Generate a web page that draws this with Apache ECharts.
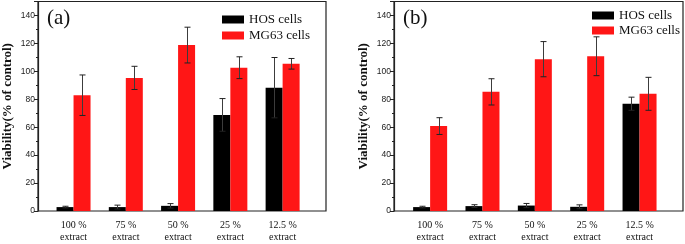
<!DOCTYPE html>
<html>
<head>
<meta charset="utf-8">
<script src="https://cdn.jsdelivr.net/npm/echarts@6/dist/echarts.min.js"></script>
<style>
html,body{margin:0;padding:0;background:#fff;}
#c{width:685px;height:244px;}
</style>
</head>
<body>
<div id="c"></div>
<script>
// ---- data ----
var categories = ['100 %\nextract', '75 %\nextract', '50 %\nextract', '25 %\nextract', '12.5 %\nextract'];
var positions = [1, 2, 3, 4, 5];

var aHOS = [2.8, 2.8, 3.7, 68.8, 88.3];
var aHOSErr = [0.6, 1.4, 1.6, 11.7, 21.6];
var aMG63 = [82.9, 95.3, 118.8, 102.6, 105.4];
var aMG63Err = [14.5, 8.3, 12.8, 7.8, 3.8];

var bHOS = [2.8, 3.5, 3.9, 3.0, 76.8];
var bHOSErr = [0.6, 1.0, 1.5, 1.4, 4.7];
var bMG63 = [60.8, 85.3, 108.7, 110.8, 83.9];
var bMG63Err = [6.0, 9.4, 12.6, 13.9, 11.8];

var SERIF = 'Liberation Serif, Times New Roman, serif';
var SANS = 'Liberation Sans, Arial, sans-serif';
var BAR_W = 17;

function pairs(vals) { return positions.map(function (p, i) { return [p, vals[i]]; }); }
function triples(vals, errs) { return positions.map(function (p, i) { return [p, vals[i], errs[i]]; }); }

function errSeries(idx, vals, errs, shift) {
  return {
    type: 'custom', name: 'err' + idx + shift, xAxisIndex: idx, yAxisIndex: idx, z: 5,
    data: triples(vals, errs),
    renderItem: function (params, api) {
      var x = api.value(0), y = api.value(1), e = api.value(2);
      var top = api.coord([x, y + e]);
      var bot = api.coord([x, y - e]);
      var cx = Math.round(top[0] + shift * BAR_W / 2) + 0.5;
      var cap = 3;
      return {
        type: 'group',
        children: [
          { type: 'line', shape: { x1: cx, y1: top[1], x2: cx, y2: bot[1] }, style: { stroke: '#3c3c3c', lineWidth: 1 } },
          { type: 'line', shape: { x1: cx - cap, y1: top[1], x2: cx + cap, y2: top[1] }, style: { stroke: '#222', lineWidth: 1 } },
          { type: 'line', shape: { x1: cx - cap, y1: bot[1], x2: cx + cap, y2: bot[1] }, style: { stroke: '#222', lineWidth: 1 } }
        ]
      };
    }
  };
}

function xAxisDef(idx, min, max) {
  return {
    type: 'value', gridIndex: idx, min: min, max: max,
    splitLine: { show: false },
    axisLine: { show: false },
    axisTick: { show: false },
    axisLabel: {
      customValues: positions,
      formatter: function (v) { var i = positions.indexOf(Math.round(v)); return i >= 0 ? categories[i] : ''; },
      fontFamily: SERIF, fontSize: 10, color: '#111', lineHeight: 12.5, margin: 8
    }
  };
}

function yAxisDef(idx) {
  return {
    type: 'value', gridIndex: idx, min: 0, max: 150, interval: 20,
    name: 'Viability(% of control)', nameLocation: 'middle', nameRotate: 90, nameGap: 24,
    nameTextStyle: { fontFamily: SERIF, fontWeight: 'bold', fontSize: 13, color: '#111' },
    splitLine: { show: false },
    axisLine: { show: true, lineStyle: { color: '#222', width: 1.2 } },
    axisTick: { show: true, length: 4, lineStyle: { color: '#222' } },
    minorTick: { show: true, splitNumber: 2, length: 2, lineStyle: { color: '#222' } },
    axisLabel: { showMaxLabel: false, fontFamily: SANS, fontSize: 8.5, color: '#222', margin: 3 }
  };
}

var option = {
  animation: false,
  backgroundColor: '#fff',
  title: [
    { text: '(a)', left: 42, top: 3, textStyle: { fontFamily: SERIF, fontSize: 21, fontWeight: 'normal', color: '#111' } },
    { text: '(b)', left: 398, top: 3, textStyle: { fontFamily: SERIF, fontSize: 21, fontWeight: 'normal', color: '#111' } }
  ],
  legend: [
    { orient: 'vertical', left: 217, top: 8, itemWidth: 22, itemHeight: 8, itemGap: 3, icon: 'rect',
      data: ['HOS cells', 'MG63 cells'], textStyle: { fontFamily: SERIF, fontSize: 13, color: '#111' } },
    { orient: 'vertical', left: 587, top: 4, itemWidth: 22, itemHeight: 8, itemGap: 2, icon: 'rect',
      data: ['HOS cells', 'MG63 cells'], textStyle: { fontFamily: SERIF, fontSize: 13, color: '#111' } }
  ],
  grid: [
    { left: 38, right: 359, top: 1.5, bottom: 30.5, show: true, borderColor: '#222', borderWidth: 1.2, backgroundColor: 'transparent' },
    { left: 394, right: 2, top: 1.5, bottom: 30.5, show: true, borderColor: '#222', borderWidth: 1.2, backgroundColor: 'transparent' }
  ],
  xAxis: [xAxisDef(0, 0.32, 5.83), xAxisDef(1, 0.31, 5.83)],
  yAxis: [yAxisDef(0), yAxisDef(1)],
  series: [
    { type: 'bar', name: 'HOS cells', xAxisIndex: 0, yAxisIndex: 0, data: pairs(aHOS), barWidth: BAR_W, barGap: '0%', itemStyle: { color: '#000' } },
    { type: 'bar', name: 'MG63 cells', xAxisIndex: 0, yAxisIndex: 0, data: pairs(aMG63), barWidth: BAR_W, barGap: '0%', itemStyle: { color: '#ff1616' } },
    { type: 'bar', name: 'HOS cells', xAxisIndex: 1, yAxisIndex: 1, data: pairs(bHOS), barWidth: BAR_W, barGap: '0%', itemStyle: { color: '#000' } },
    { type: 'bar', name: 'MG63 cells', xAxisIndex: 1, yAxisIndex: 1, data: pairs(bMG63), barWidth: BAR_W, barGap: '0%', itemStyle: { color: '#ff1616' } },
    errSeries(0, aHOS, aHOSErr, -1),
    errSeries(0, aMG63, aMG63Err, 1),
    errSeries(1, bHOS, bHOSErr, -1),
    errSeries(1, bMG63, bMG63Err, 1)
  ]
};

var chart = echarts.init(document.getElementById('c'), null, { renderer: 'canvas' });
chart.setOption(option);
</script>
</body>
</html>
